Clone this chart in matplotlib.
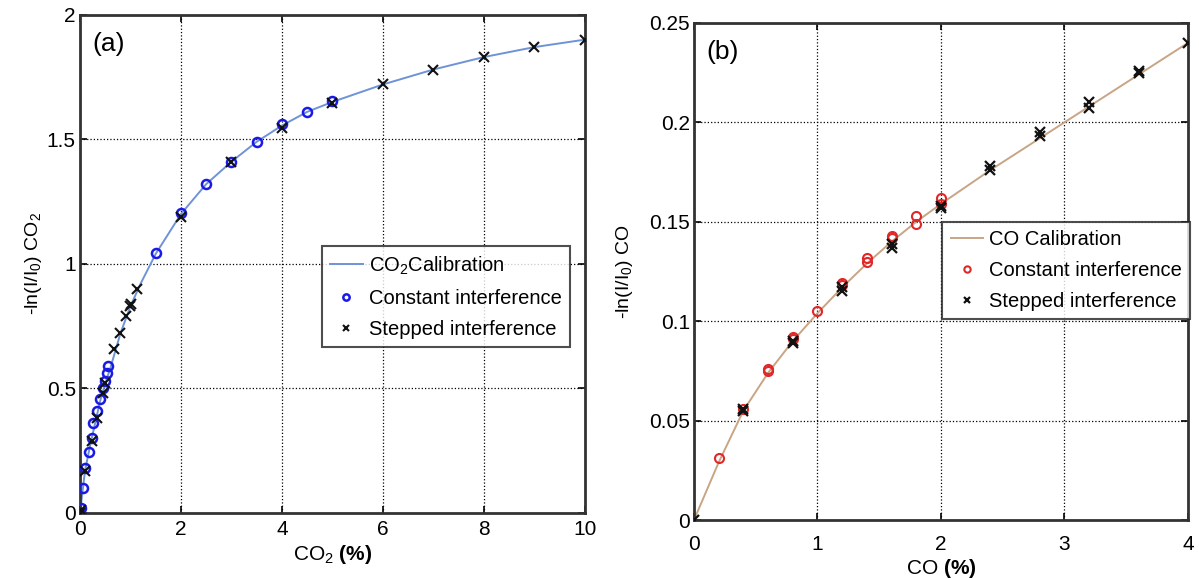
import matplotlib
matplotlib.use("Agg")
import matplotlib.pyplot as plt
from matplotlib.ticker import FormatStrFormatter, MultipleLocator

plt.rcParams['font.family'] = ['Liberation Sans', 'DejaVu Sans']
plt.rcParams['mathtext.fontset'] = 'custom'
plt.rcParams['mathtext.rm'] = 'Liberation Sans'
plt.rcParams['mathtext.it'] = 'Liberation Sans'
plt.rcParams['mathtext.bf'] = 'Liberation Sans:bold'

# ---- (a) CO2 ----
co2_cal_x = [0, 0.1, 0.2, 0.3, 0.4, 0.5, 0.6, 0.8, 1.0, 1.2, 1.5, 2.0, 2.5, 3.0, 3.5, 4.0, 4.5, 5.0, 6.0, 7.0, 8.0, 9.0, 10.0]
co2_cal_y = [0, 0.17, 0.27, 0.36, 0.45, 0.52, 0.58, 0.72, 0.83, 0.92, 1.04, 1.20, 1.32, 1.41, 1.49, 1.555, 1.61, 1.65, 1.72, 1.78, 1.83, 1.87, 1.90]

co2_const_x = [0, 0.02, 0.065, 0.1, 0.18, 0.23, 0.26, 0.34, 0.40, 0.45, 0.50, 0.53, 0.56, 1.5, 2.0, 2.5, 3.0, 3.5, 4.0, 4.5, 5.0]
co2_const_y = [0, 0.02, 0.10, 0.18, 0.246, 0.30, 0.36, 0.41, 0.458, 0.50, 0.53, 0.56, 0.59, 1.045, 1.205, 1.32, 1.41, 1.49, 1.56, 1.61, 1.655]

co2_step_x = [0, 0.02, 0.1, 0.23, 0.34, 0.45, 0.50, 0.68, 0.79, 0.91, 0.99, 1.02, 1.13, 2.0, 3.0, 4.0, 5.0, 6.0, 7.0, 8.0, 9.0, 10.0]
co2_step_y = [0, 0.01, 0.17, 0.29, 0.38, 0.48, 0.52, 0.66, 0.724, 0.79, 0.83, 0.84, 0.90, 1.19, 1.41, 1.545, 1.645, 1.72, 1.78, 1.83, 1.87, 1.90]

# ---- (b) CO ----
co_cal_x = [0, 0.2, 0.4, 0.6, 0.8, 1.0, 1.2, 1.4, 1.6, 1.8, 2.0, 2.4, 2.8, 3.2, 3.6, 4.0]
co_cal_y = [0, 0.029, 0.055, 0.074, 0.090, 0.104, 0.117, 0.129, 0.140, 0.150, 0.159, 0.176, 0.192, 0.208, 0.224, 0.240]

co_const_x = [0.2, 0.4, 0.6, 0.6, 0.8, 0.8, 1.0, 1.2, 1.2, 1.4, 1.4, 1.6, 1.6, 1.8, 1.8, 2.0, 2.0]
co_const_y = [0.031, 0.056, 0.075, 0.076, 0.091, 0.092, 0.105, 0.118, 0.119, 0.130, 0.132, 0.142, 0.143, 0.149, 0.153, 0.159, 0.162]

co_step_x = [0, 0.4, 0.4, 0.8, 0.8, 1.2, 1.2, 1.6, 1.6, 2.0, 2.0, 2.4, 2.4, 2.8, 2.8, 3.2, 3.2, 3.6, 3.6, 4.0]
co_step_y = [0, 0.055, 0.056, 0.089, 0.090, 0.115, 0.117, 0.137, 0.139, 0.157, 0.158, 0.176, 0.178, 0.193, 0.195, 0.207, 0.210, 0.225, 0.226, 0.240]

fig = plt.figure(figsize=(11.99, 5.78), dpi=100)
axa = fig.add_axes([0.0667, 0.1125, 0.421, 0.862])
axb = fig.add_axes([0.5788, 0.1003, 0.412, 0.860])


def style(ax, xpad):
    ax.grid(True, color='black', linestyle=':', linewidth=0.9)
    ax.tick_params(direction='in', top=True, right=True, labelsize=15, length=5, width=1.2)
    ax.tick_params(axis='x', pad=xpad)
    ax.tick_params(axis='y', pad=3)
    for s in ax.spines.values():
        s.set_linewidth(2.0)
        s.set_color('#333333')
    ax.set_axisbelow(True)


legend_kw = dict(fontsize=14.5, frameon=True, fancybox=False, edgecolor='#222222',
                 handlelength=1.6, handletextpad=0.3, borderpad=0.4, labelspacing=0.6,
                 borderaxespad=0, markerscale=0.7)

# Panel (a)
axa.plot(co2_cal_x, co2_cal_y, color='#6e93d6', lw=1.4, label=r'CO$_2$Calibration', zorder=2)
axa.plot(co2_const_x, co2_const_y, 'o', mfc='none', mec='#1a1ae6', mew=1.8, ms=6.5, label='Constant interference', zorder=3)
axa.plot(co2_step_x, co2_step_y, 'x', color='#111111', mew=1.5, ms=6.5, label='Stepped interference', zorder=4)
axa.set_xlim(0, 10)
axa.set_ylim(0, 2)
axa.xaxis.set_major_locator(MultipleLocator(2))
axa.yaxis.set_major_locator(MultipleLocator(0.5))
axa.yaxis.set_major_formatter(FormatStrFormatter('%g'))
style(axa, 5)
axa.set_xlabel(r'CO$_2$ $\mathbf{(\%)}$', fontsize=15, labelpad=3)
axa.set_ylabel(r'-ln(I/I$_0$) CO$_2$', fontsize=14, labelpad=2)
axa.text(0.025, 0.965, '(a)', transform=axa.transAxes, fontsize=19, va='top', ha='left')
la = axa.legend(loc='upper left', bbox_to_anchor=(0.48, 0.535), **legend_kw)
la.get_frame().set_linewidth(1.5)

# Panel (b)
axb.plot(co_cal_x, co_cal_y, color='#c8a585', lw=1.4, label='CO Calibration', zorder=2)
axb.plot(co_const_x, co_const_y, 'o', mfc='none', mec='#e02828', mew=1.5, ms=6.5, label='Constant interference', zorder=3)
axb.plot(co_step_x, co_step_y, 'x', color='#111111', mew=1.6, ms=6.5, label='Stepped interference', zorder=4)
axb.set_xlim(0, 4)
axb.set_ylim(0, 0.25)
axb.xaxis.set_major_locator(MultipleLocator(1))
axb.yaxis.set_major_locator(MultipleLocator(0.05))
axb.yaxis.set_major_formatter(FormatStrFormatter('%g'))
style(axb, 11)
axb.set_xlabel(r'CO $\mathbf{(\%)}$', fontsize=15, labelpad=2)
axb.set_ylabel(r'-ln(I/I$_0$) CO', fontsize=14, labelpad=10)
axb.text(0.025, 0.965, '(b)', transform=axb.transAxes, fontsize=19, va='top', ha='left')
lb = axb.legend(loc='upper left', bbox_to_anchor=(0.503, 0.6), **legend_kw)
lb.get_frame().set_linewidth(1.5)

fig.savefig('out.png', dpi=100)
